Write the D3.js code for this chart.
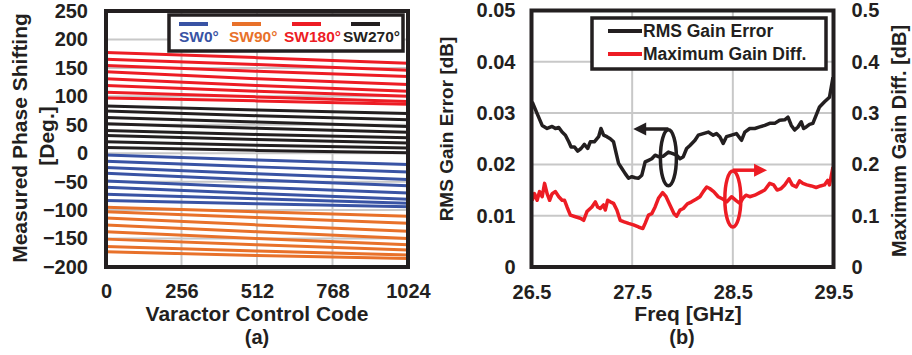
<!DOCTYPE html>
<html>
<head>
<meta charset="utf-8">
<script src="https://cdn.jsdelivr.net/npm/d3@7"></script>
<style>
  body { margin: 0; background: #fff; }
  svg text { font-family: Arial, 'Liberation Sans', sans-serif; font-weight: bold; fill: #231f20; }
</style>
</head>
<body>
<svg id="chart" width="912" height="355"></svg>
<script>
// ---- (a) measured phase vs varactor code ----
const codes = [0, 512, 1024];
const sw0 = [[-3, -12, -20], [-14, -24, -33], [-25, -36, -46], [-35, -47, -57],
             [-49, -60, -70], [-60, -71, -81], [-72, -80, -88], [-83, -89, -94]];
const sw90 = [[-95, -103, -111], [-103, -113, -123], [-114, -126, -137], [-126, -138, -150],
              [-138, -150, -161], [-151, -161, -170], [-164, -172, -179], [-173, -180, -185]];
const sw180 = [[177, 168, 158], [165, 156, 146], [154, 144, 135], [143, 131, 121],
               [131, 119, 109], [119, 109, 100], [107, 99, 91], [97, 92, 86]];
const sw270 = [[83, 76, 70], [74, 66, 59], [63, 55, 47], [52, 44, 37],
               [40, 33, 27], [31, 24, 18], [20, 14, 9], [10, 5, 1]];
const codeTicks = [0, 256, 512, 768, 1024];
const phaseTicks = [-200, -150, -100, -50, 0, 50, 100, 150, 200, 250];
const stateNames = ['SW0°', 'SW90°', 'SW180°', 'SW270°'];

// ---- (b) gain error vs frequency ----
const rmsFreq = [26.507, 26.556, 26.606, 26.655, 26.705, 26.738, 26.771, 26.804, 26.837, 26.870,
  26.893, 26.926, 26.959, 26.992, 27.025, 27.058, 27.084, 27.124, 27.167, 27.190,
  27.216, 27.249, 27.282, 27.315, 27.342, 27.365, 27.398, 27.431, 27.464, 27.497,
  27.530, 27.563, 27.596, 27.629, 27.662, 27.695, 27.728, 27.761, 27.810, 27.860,
  27.903, 27.942, 27.975, 28.008, 28.041, 28.074, 28.124, 28.157, 28.206, 28.256,
  28.305, 28.338, 28.371, 28.404, 28.437, 28.487, 28.536, 28.586, 28.619, 28.668,
  28.718, 28.767, 28.817, 28.866, 28.916, 28.965, 29.015, 29.048, 29.081, 29.114,
  29.147, 29.180, 29.203, 29.229, 29.262, 29.295, 29.328, 29.361, 29.411, 29.460, 29.495];
const rmsErr = [0.0322, 0.0299, 0.0276, 0.0270, 0.0274, 0.0270, 0.0272, 0.0263, 0.0257, 0.0244,
  0.0234, 0.0234, 0.0226, 0.0231, 0.0239, 0.0231, 0.0244, 0.0244, 0.0254, 0.0270,
  0.0257, 0.0254, 0.0250, 0.0244, 0.0221, 0.0202, 0.0192, 0.0182, 0.0173, 0.0176,
  0.0174, 0.0173, 0.0179, 0.0205, 0.0208, 0.0211, 0.0218, 0.0215, 0.0216, 0.0224,
  0.0221, 0.0218, 0.0211, 0.0215, 0.0231, 0.0237, 0.0247, 0.0257, 0.0260, 0.0263,
  0.0257, 0.0260, 0.0254, 0.0241, 0.0254, 0.0257, 0.0260, 0.0247, 0.0263, 0.0270,
  0.0270, 0.0273, 0.0276, 0.0280, 0.0280, 0.0286, 0.0287, 0.0292, 0.0276, 0.0267,
  0.0273, 0.0283, 0.0270, 0.0273, 0.0278, 0.0280, 0.0296, 0.0312, 0.0322, 0.0331, 0.0370];
const diffFreq = [26.507, 26.53, 26.556, 26.58, 26.606, 26.63, 26.655, 26.68, 26.705, 26.738,
  26.771, 26.804, 26.828, 26.853, 26.886, 26.936, 26.985, 27.018, 27.051, 27.10,
  27.134, 27.157, 27.183, 27.216, 27.233, 27.256, 27.282, 27.315, 27.348, 27.381,
  27.42, 27.464, 27.513, 27.563, 27.606, 27.629, 27.662, 27.695, 27.728, 27.761,
  27.803, 27.837, 27.875, 27.916, 27.942, 27.975, 28.008, 28.048, 28.09, 28.134,
  28.173, 28.206, 28.24, 28.27, 28.31, 28.355, 28.404, 28.44, 28.487, 28.53,
  28.57, 28.60, 28.63, 28.668, 28.718, 28.767, 28.817, 28.866, 28.906, 28.94,
  28.98, 29.015, 29.058, 29.09, 29.13, 29.163, 29.196, 29.236, 29.28, 29.328,
  29.37, 29.41, 29.443, 29.46, 29.495];
const maxDiff = [0.130, 0.143, 0.130, 0.147, 0.137, 0.163, 0.143, 0.130, 0.143, 0.147,
  0.137, 0.130, 0.130, 0.117, 0.101, 0.098, 0.095, 0.091, 0.108, 0.117,
  0.127, 0.117, 0.114, 0.121, 0.111, 0.130, 0.127, 0.124, 0.111, 0.091,
  0.088, 0.085, 0.082, 0.078, 0.075, 0.085, 0.101, 0.104, 0.117, 0.134,
  0.145, 0.137, 0.121, 0.104, 0.099, 0.111, 0.114, 0.123, 0.127, 0.132,
  0.137, 0.147, 0.156, 0.153, 0.147, 0.137, 0.132, 0.127, 0.137, 0.130,
  0.124, 0.134, 0.140, 0.137, 0.140, 0.145, 0.150, 0.163, 0.160, 0.150,
  0.153, 0.160, 0.172, 0.160, 0.156, 0.168, 0.163, 0.160, 0.158, 0.155,
  0.158, 0.160, 0.169, 0.160, 0.195];
const freqTicks = [26.5, 27.5, 28.5, 29.5];
const rmsTicks = [0, 0.01, 0.02, 0.03, 0.04, 0.05];
const diffTicks = [0, 0.1, 0.2, 0.3, 0.4, 0.5];

const ink = '#231f20', grid = '#c8c8c8';
const colors = ['#3953a4', '#e8712a', '#ed1c24', ink];

const svg = d3.select('#chart');

function noDomain(g) { g.select('.domain').remove(); }

// ================= panel (a) =================
const xa = d3.scaleLinear().domain([0, 1024]).range([106, 408]);
const ya = d3.scaleLinear().domain([-200, 250]).range([267, 11]);
const ga = svg.append('g');

ga.selectAll('.gy').data(phaseTicks).enter().append('line')
    .attr('x1', xa(0)).attr('x2', xa(1024))
    .attr('y1', d => ya(d)).attr('y2', d => ya(d))
    .attr('stroke', grid).attr('stroke-width', 2);
ga.selectAll('.gx').data(codeTicks).enter().append('line')
    .attr('y1', ya(-200)).attr('y2', ya(250))
    .attr('x1', d => xa(d)).attr('x2', d => xa(d))
    .attr('stroke', grid).attr('stroke-width', 2);

const lineA = d3.line().x((d, i) => xa(codes[i])).y(d => ya(d));
[sw0, sw90, sw180, sw270].forEach(function(group, k) {
    ga.append('g').selectAll('path').data(group).enter().append('path')
        .attr('d', lineA)
        .attr('fill', 'none')
        .attr('stroke', colors[k])
        .attr('stroke-width', 3);
});

ga.append('rect')
    .attr('x', xa(0)).attr('y', ya(250))
    .attr('width', xa(1024) - xa(0)).attr('height', ya(-200) - ya(250))
    .attr('fill', 'none').attr('stroke', ink).attr('stroke-width', 4);

ga.append('g')
    .attr('transform', 'translate(' + xa(0) + ',0)')
    .call(d3.axisLeft(ya).tickValues(phaseTicks).tickSize(0).tickPadding(18))
    .call(noDomain)
    .selectAll('text').style('font-size', '20px').attr('fill', ink);
ga.append('g')
    .attr('transform', 'translate(0,' + ya(-200) + ')')
    .call(d3.axisBottom(xa).tickValues(codeTicks).tickSize(0).tickPadding(17).tickFormat(d3.format('d')))
    .call(noDomain)
    .selectAll('text').style('font-size', '20px').attr('fill', ink);

// legend (a)
ga.append('rect').attr('x', 169).attr('y', 15).attr('width', 234).attr('height', 36)
    .attr('fill', '#fff').attr('stroke', ink).attr('stroke-width', 3.5);
const legA = [{x: 179, tx: 179}, {x: 232, tx: 229}, {x: 292, tx: 284}, {x: 351, tx: 343}];
legA.forEach(function(p, k) {
    ga.append('line').attr('x1', p.x).attr('x2', p.x + 29).attr('y1', 24).attr('y2', 24)
        .attr('stroke', colors[k]).attr('stroke-width', 4);
    ga.append('text').attr('x', p.tx).attr('y', 42).text(stateNames[k])
        .style('font-size', '15.5px').style('fill', colors[k]);
});

ga.append('text').attr('transform', 'translate(27,138) rotate(-90)')
    .attr('text-anchor', 'middle').style('font-size', '21px').text('Measured Phase Shifting');
ga.append('text').attr('transform', 'translate(54,136) rotate(-90)')
    .attr('text-anchor', 'middle').style('font-size', '21px').text('[Deg.]');
ga.append('text').attr('x', 257).attr('y', 321)
    .attr('text-anchor', 'middle').style('font-size', '21px').text('Varactor Control Code');
ga.append('text').attr('x', 257).attr('y', 344)
    .attr('text-anchor', 'middle').style('font-size', '20px').text('(a)');

// ================= panel (b) =================
const xb = d3.scaleLinear().domain([26.5, 29.5]).range([531.5, 833.5]);
const yl = d3.scaleLinear().domain([0, 0.05]).range([267, 10.5]);
const yr = d3.scaleLinear().domain([0, 0.5]).range([267, 10.5]);
const gb = svg.append('g');

gb.selectAll('.gy').data(rmsTicks).enter().append('line')
    .attr('x1', xb(26.5)).attr('x2', xb(29.5))
    .attr('y1', d => yl(d)).attr('y2', d => yl(d))
    .attr('stroke', grid).attr('stroke-width', 2);
gb.selectAll('.gx').data(freqTicks).enter().append('line')
    .attr('y1', yl(0)).attr('y2', yl(0.05))
    .attr('x1', d => xb(d)).attr('x2', d => xb(d))
    .attr('stroke', grid).attr('stroke-width', 2);

gb.append('path')
    .datum(d3.zip(rmsFreq, rmsErr))
    .attr('d', d3.line().x(d => xb(d[0])).y(d => yl(d[1])))
    .attr('fill', 'none').attr('stroke', ink).attr('stroke-width', 3.5)
    .attr('stroke-linejoin', 'round');
gb.append('path')
    .datum(d3.zip(diffFreq, maxDiff))
    .attr('d', d3.line().x(d => xb(d[0])).y(d => yr(d[1])))
    .attr('fill', 'none').attr('stroke', colors[2]).attr('stroke-width', 3.5)
    .attr('stroke-linejoin', 'round');

// annotations: ellipses with arrows pointing to each axis
function marker(cx, cy, ay, tip, color) {
    gb.append('ellipse').attr('cx', cx).attr('cy', cy).attr('rx', 8).attr('ry', 28)
        .attr('fill', 'none').attr('stroke', color).attr('stroke-width', 3.5);
    const dir = tip < cx ? 1 : -1;
    gb.append('line').attr('x1', cx).attr('x2', tip + dir * 10).attr('y1', ay).attr('y2', ay)
        .attr('stroke', color).attr('stroke-width', 3.5);
    gb.append('path')
        .attr('d', 'M' + tip + ',' + ay + 'L' + (tip + dir * 13) + ',' + (ay - 6.5) +
                   'L' + (tip + dir * 13) + ',' + (ay + 6.5) + 'Z')
        .attr('fill', color);
}
marker(xb(27.86), yl(0.0213), yl(0.0269), xb(27.51), ink);
marker(xb(28.5), yr(0.1327), yr(0.1887), xb(28.84), colors[2]);

gb.append('rect')
    .attr('x', xb(26.5)).attr('y', yl(0.05))
    .attr('width', xb(29.5) - xb(26.5)).attr('height', yl(0) - yl(0.05))
    .attr('fill', 'none').attr('stroke', ink).attr('stroke-width', 4);

gb.append('g')
    .attr('transform', 'translate(' + xb(26.5) + ',0)')
    .call(d3.axisLeft(yl).tickValues(rmsTicks).tickSize(0).tickPadding(16).tickFormat(d3.format('')))
    .call(noDomain)
    .selectAll('text').style('font-size', '20px').attr('fill', ink);
gb.append('g')
    .attr('transform', 'translate(' + xb(29.5) + ',0)')
    .call(d3.axisRight(yr).tickValues(diffTicks).tickSize(0).tickPadding(18).tickFormat(d3.format('')))
    .call(noDomain)
    .selectAll('text').style('font-size', '20px').attr('fill', ink);
gb.append('g')
    .attr('transform', 'translate(0,' + yl(0) + ')')
    .call(d3.axisBottom(xb).tickValues(freqTicks).tickSize(0).tickPadding(18).tickFormat(d3.format('.1f')))
    .call(noDomain)
    .selectAll('text').style('font-size', '20px').attr('fill', ink);

// legend (b)
gb.append('rect').attr('x', 592).attr('y', 18).attr('width', 234).attr('height', 51)
    .attr('fill', '#fff').attr('stroke', ink).attr('stroke-width', 3.5);
[['RMS Gain Error', ink, 31, 37], ['Maximum Gain Diff.', colors[2], 54, 60]].forEach(function(r) {
    gb.append('line').attr('x1', 608).attr('x2', 642).attr('y1', r[2]).attr('y2', r[2])
        .attr('stroke', r[1]).attr('stroke-width', 4);
    gb.append('text').attr('x', 643).attr('y', r[3]).style('font-size', '17.5px').text(r[0]);
});

gb.append('text').attr('transform', 'translate(453,129) rotate(-90)')
    .attr('text-anchor', 'middle').style('font-size', '19px').text('RMS Gain Error [dB]');
gb.append('text').attr('transform', 'translate(906,141) rotate(-90)')
    .attr('text-anchor', 'middle').style('font-size', '20px').text('Maximum Gain Diff. [dB]');
gb.append('text').attr('x', 688).attr('y', 321)
    .attr('text-anchor', 'middle').style('font-size', '21px').text('Freq [GHz]');
gb.append('text').attr('x', 682).attr('y', 344)
    .attr('text-anchor', 'middle').style('font-size', '20px').text('(b)');
</script>
</body>
</html>
